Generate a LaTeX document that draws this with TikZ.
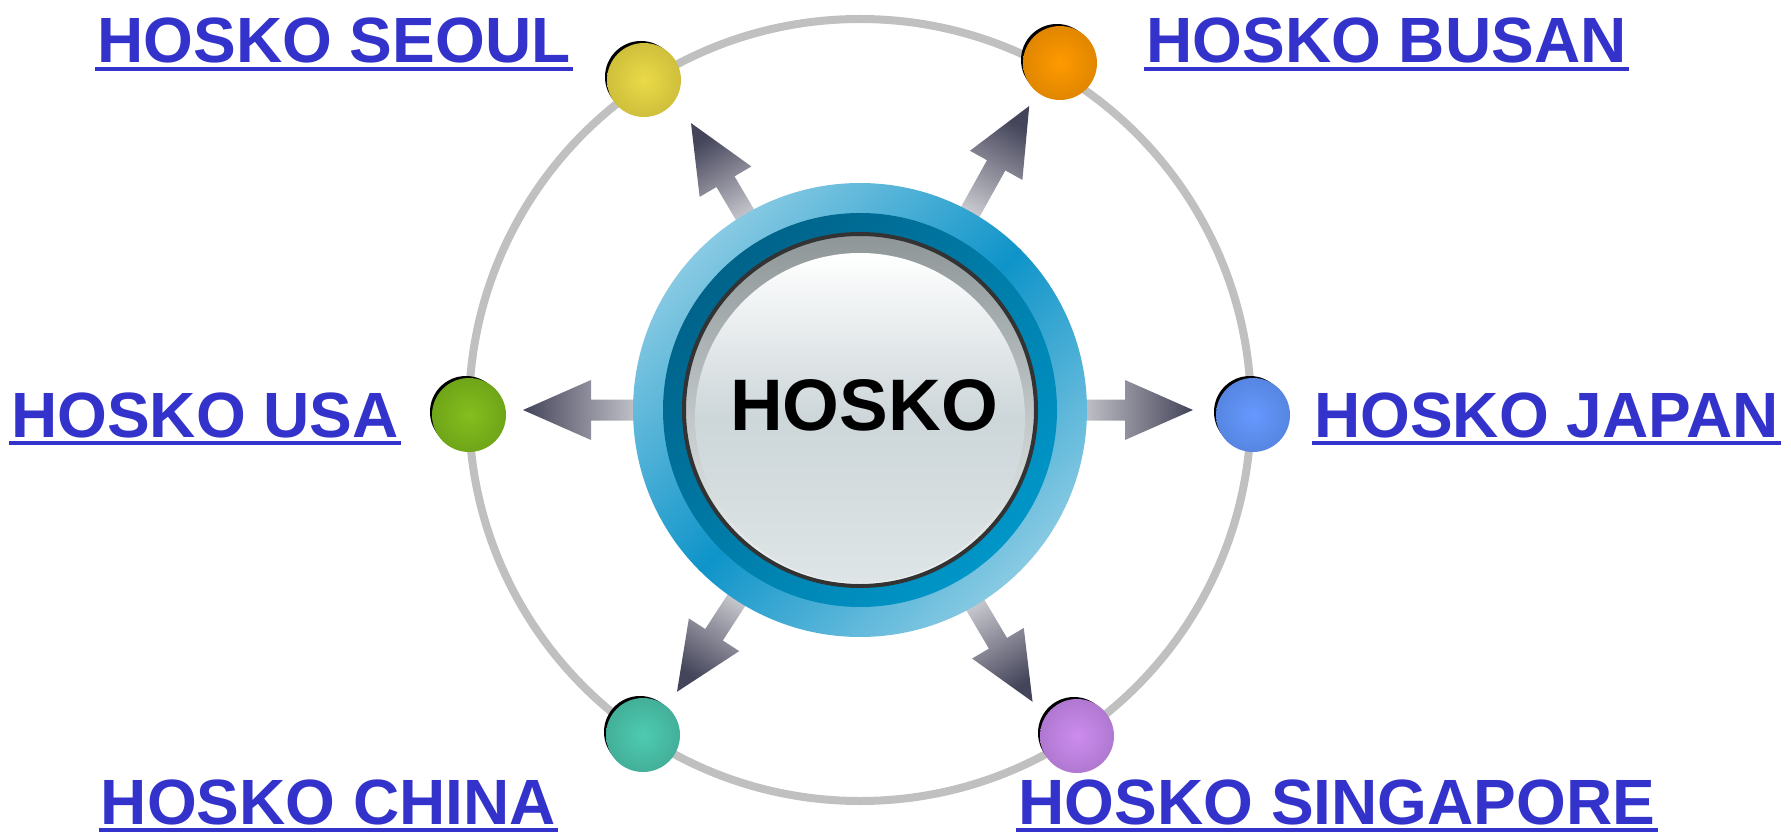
\documentclass[tikz,border=0pt]{standalone}
\usepackage{fontspec}
\setmainfont{Liberation Sans}
\usetikzlibrary{calc}
\definecolor{linkc}{HTML}{3333CC}
\definecolor{orbitc}{HTML}{C0C0C0}
\definecolor{flowlight}{HTML}{DCDCE0}
\definecolor{flowdark}{HTML}{44445A}
\definecolor{hubsky}{HTML}{88CAE3}
\definecolor{hubsea}{HTML}{0E94C9}
\definecolor{ringdeep}{HTML}{00638A}
\definecolor{ringbright}{HTML}{0096C8}
\definecolor{faceshade}{HTML}{8E9698}
\definecolor{facelight}{HTML}{F0F4F4}
\definecolor{facemid}{HTML}{CDD6D9}
\definecolor{edgec}{HTML}{333333}
\colorlet{sphin}{white}
\colorlet{sphout}{gray}
\pgfdeclareradialshading[sphin,sphout]{sphere}{\pgfpointorigin}{color(0bp)=(sphin); color(50bp)=(sphout)}
\tikzstyle{hosko} = [x=0.5pt, y=0.5pt, line join=round]
\tikzstyle{orbitline} = [draw=orbitc, line width=4pt]
\tikzstyle{faceedge} = [draw=edgec, line width=2pt]
\tikzstyle{hubtext} = [inner sep=0pt, text=black, font=\bfseries\fontsize{36.5}{40}\selectfont]
\tikzstyle{sphere} = [circle, inner sep=0pt, minimum size=37pt, shade, shading=sphere]
\tikzstyle{link} = [anchor=base, inner xsep=1pt, inner ysep=0pt, text=linkc, font=\bfseries\fontsize{32}{36}\selectfont]
\tikzstyle{uline} = [draw=linkc, line width=2pt]

\begin{document}
\begin{tikzpicture}[hosko]
    \def\orbit{391}
    \useasboundingbox (-860,-425) rectangle (931,410);
    \coordinate (C) at (0,0);

    % Orbit
    \draw[orbitline] (C) circle (\orbit);

    % Arrows
    \foreach \a/\t in {120.5/333, 60.9/348, 180/337, 0/333, 237/336, -59.4/339} {
        \pgfmathsetmacro\s{\a-90}
        \pgfmathsetmacro\b{\t-68}
        \shade[top color=flowdark, bottom color=flowlight, shading angle=\s]
            ($(C)+(\a:200)+(\a+90:10.5)$) -- ($(C)+(\a:\b)+(\a+90:10.5)$)
            -- ($(C)+(\a:\b)+(\a+90:30)$) -- ($(C)+(\a:\t)$)
            -- ($(C)+(\a:\b)+(\a-90:30)$) -- ($(C)+(\a:\b)+(\a-90:10.5)$)
            -- ($(C)+(\a:200)+(\a-90:10.5)$) -- cycle;
    }

    % Hub
    \shade[left color=hubsky, right color=hubsky, middle color=hubsea, shading angle=45] (C) circle (227);
    \shade[top color=ringdeep, bottom color=ringbright, shading angle=45] (C) circle (197);
    \shade[top color=faceshade, bottom color=facelight] (C) circle (175);
    \shade[top color=white, bottom color=facelight!50!facemid, middle color=facemid] ($(C)+(0,-8)$) circle (165);
    \draw[faceedge] (C) circle (176);
    \node[hubtext] (hub) at (4,5) {HOSKO};

    % Spheres
    \foreach \n/\p/\ci/\co in {seoul/{-216,330}/EADA48/B4A42E, busan/{200,347}/FF9A00/C27200,
        usa/{-391,-5}/84BE1E/5A8C12, japan/{393,-5}/6699FF/4673C4,
        china/{-217,-325}/4ECBB2/389480, singapore/{217,-326}/CC8CEE/9464B4} {
        \definecolor{sphin}{HTML}{\ci}
        \definecolor{sphout}{HTML}{\co}
        \fill[black, xshift=-1.5pt, yshift=1.5pt] (\p) circle (36);
        \node[sphere] (\n) at (\p) {};
    }

    % Labels
    \foreach \n/\p/\txt in {seoul/{-526,347}/HOSKO SEOUL, busan/{526.5,347}/HOSKO BUSAN,
        usa/{-655,-27}/HOSKO USA, japan/{686.5,-27}/HOSKO JAPAN,
        china/{-531.5,-414}/HOSKO CHINA, singapore/{477,-414}/HOSKO SINGAPORE} {
        \node[link] (\n-label) at (\p) {\txt};
        \draw[uline] ([yshift=-3pt]\n-label.base west) -- ([yshift=-3pt]\n-label.base east);
    }
\end{tikzpicture}
\end{document}
